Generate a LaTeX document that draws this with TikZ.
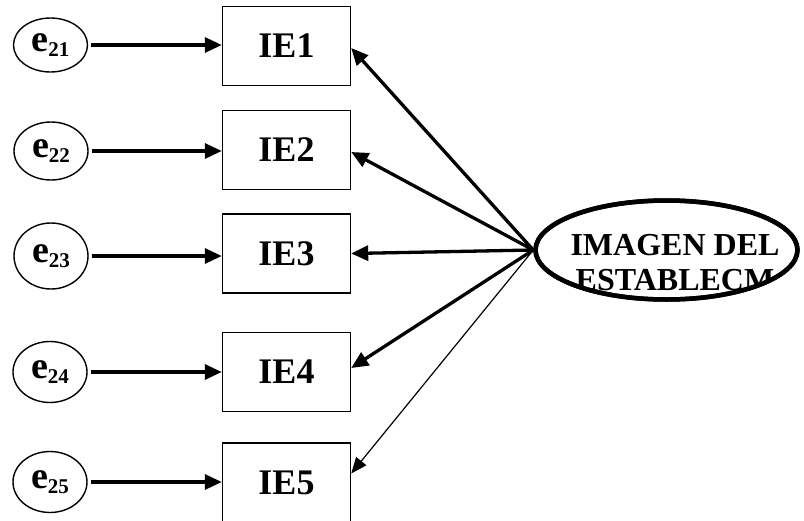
\documentclass[tikz,border=0pt]{standalone}
\usepackage{fontspec}
\setmainfont{Liberation Serif}
\usetikzlibrary{shapes.geometric,arrows.meta}
% error term label: bold "e" with a lowered, smaller index
\newcommand\errlabel[1]{e\raisebox{-4.5pt}{\fontsize{21}{21}\selectfont #1}}
\begin{document}
\begin{tikzpicture}[x=1pt,y=-1pt,
  err/.style={ellipse,draw,line width=1.4pt,inner sep=0pt,minimum width=74pt,
    font=\bfseries\fontsize{38}{38}\selectfont},
  ind/.style={rectangle,draw,line width=1.4pt,minimum width=128pt,minimum height=79pt,
    inner sep=0pt,font=\bfseries\fontsize{36}{36}\selectfont},
  lat/.style={ellipse,draw,line width=4.5pt,minimum width=262pt,minimum height=99pt,inner sep=0pt},
  lattext/.style={anchor=base,inner sep=0pt,font=\bfseries\fontsize{32}{32}\selectfont},
  link/.style={line width=3.3pt,-{Triangle[length=17pt,width=15pt]}},
  thinlink/.style={line width=1.2pt,-{Triangle[length=16pt,width=13pt]}},
]
\useasboundingbox (0,0) rectangle (804,520);

% error terms
\node[err,minimum height=54pt] (e21) at (50.5,45) {\errlabel{21}};
\node[err,minimum height=58pt] (e22) at (51,151) {\errlabel{22}};
\node[err,minimum height=66pt] (e23) at (51,256) {\errlabel{23}};
\node[err,minimum height=61pt] (e24) at (50,372) {\errlabel{24}};
\node[err,minimum height=61pt] (e25) at (50,482) {\errlabel{25}};

% indicators
\node[ind] (IE1) at (286.5,46) {IE1};
\node[ind] (IE2) at (286.5,150) {IE2};
\node[ind] (IE3) at (286.5,253.5) {IE3};
\node[ind] (IE4) at (286.5,372) {IE4};
\node[ind] (IE5) at (286.5,482.5) {IE5};

% latent construct: text clipped to the interior, rim drawn on top
\node[lat] (img) at (666.5,250) {};
\begin{scope}
  \clip (666.5,250) ellipse [x radius=129pt, y radius=48pt];
  \node[lattext] (imgA) at (675,255) {IMAGEN DEL};
  \node[lattext] (imgB) at (675,290) {ESTABLECM};
\end{scope}
\node[lat] (imgrim) at (666.5,250) {};

% error -> indicator
\foreach \i in {1,...,5}
  \draw[link,shorten <=3pt] (e2\i.east) -- (IE\i.west |- e2\i.east);

% construct -> indicators
\draw[link] (img.west) -- ([yshift=-2pt]IE1.east);
\draw[link] (img.west) -- ([yshift=-2pt]IE2.east);
\draw[link] (img.west) -- (IE3.east);
\draw[link] (img.west) -- ([yshift=4pt]IE4.east);
\draw[thinlink] (img.west) -- ([yshift=9pt]IE5.east);
\end{tikzpicture}
\end{document}
